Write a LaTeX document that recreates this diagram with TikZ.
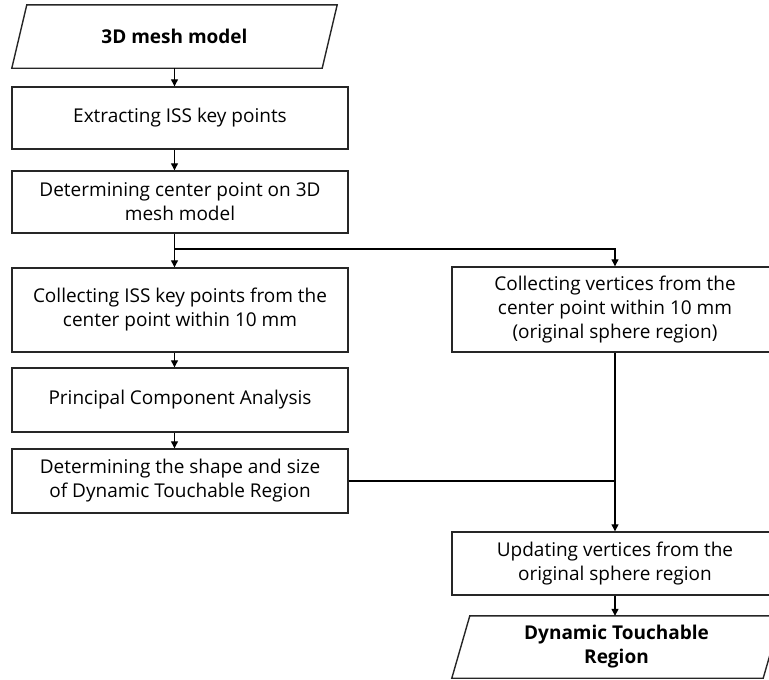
\documentclass[tikz,border=0pt]{standalone}
\usepackage{fontspec}
\setmainfont{Open Sans}
\usetikzlibrary{arrows.meta, positioning}

\begin{document}
\begin{tikzpicture}[
  x=1pt, y=-1pt,
  stage/.style={
    rectangle, draw=black!85, line width=1.4pt,
    minimum width=336pt, minimum height=62pt,
    align=center, font=\fontsize{19}{24}\selectfont, inner sep=2pt
  },
  io/.style={
    rectangle, minimum width=310pt, minimum height=63pt,
    align=center, font=\fontsize{19}{24}\selectfont\bfseries
  },
  frame/.style={draw=black!85, line width=1.4pt},
  arr/.style={-{Triangle[length=7pt,width=7pt]}, line width=1.2pt},
  link/.style={line width=1.2pt}
]
\useasboundingbox (0,0) rectangle (769,680);
\clip (0,0) rectangle (769,680);

% left column
\node[io] (mesh) at (174.5,36.5) {3D mesh model};
\node[stage] (iss) at (180,118) {Extracting ISS key points};
\node[stage] (center) at (180,202) {Determining center point on 3D\\mesh model};
\node[stage, minimum height=84pt] (collect) at (180,310) {Collecting ISS key points from the\\center point within 10 mm};
\node[stage, minimum height=64pt] (pca) at (180,400) {Principal Component Analysis};
\node[stage, minimum height=64pt] (shape) at (180,481) {Determining the shape and size\\of Dynamic Touchable Region};

% right column
\node[stage, minimum width=326pt, minimum height=85pt] (sphere) at (615,309.5) {Collecting vertices from the\\center point within 10 mm\\(original sphere region)};
\node[stage, minimum width=326pt, minimum height=63pt] (update) at (615,563.5) {Updating vertices from the\\original sphere region};
\node[io, minimum width=311pt, minimum height=62pt] (dtr) at (616.5,647) {Dynamic Touchable\\Region};

% parallelograms
\draw[frame] ([xshift=-7.5pt]mesh.south west) -- ([xshift=7.5pt]mesh.north west)
  -- ([xshift=7.5pt]mesh.north east) -- ([xshift=-7.5pt]mesh.south east) -- cycle;
\draw[frame] ([xshift=-9pt]dtr.south west) -- ([xshift=9pt]dtr.north west)
  -- ([xshift=9pt]dtr.north east) -- ([xshift=-9pt]dtr.south east) -- cycle;

% connectors
\coordinate (split) at (174.5,249);
\draw[arr] (mesh.south) -- (mesh.south |- iss.north);
\draw[arr] (mesh.south |- iss.south) -- (mesh.south |- center.north);
\draw[link] (mesh.south |- center.south) -- (split);
\draw[arr] (split) -- (split |- collect.north);
\draw[arr] (split) -| (sphere.north);
\draw[arr] (split |- collect.south) -- (split |- pca.north);
\draw[arr] (split |- pca.south) -- (split |- shape.north);
\draw[arr] (sphere.south) -- (update.north);
\draw[link] (shape.east) -- (shape.east -| sphere.south);
\draw[arr] (update.south) -- (update.south |- dtr.north);

\end{tikzpicture}
\end{document}
